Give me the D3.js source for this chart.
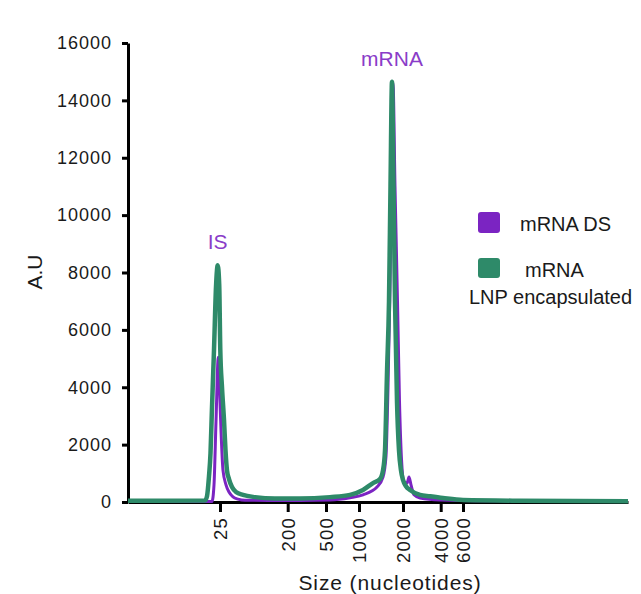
<!DOCTYPE html>
<html>
<head>
<meta charset="utf-8">
<script src="https://cdn.jsdelivr.net/npm/d3@7"></script>
<style>
  html, body { margin: 0; padding: 0; background: #ffffff; }
  svg { display: block; }
  text { font-family: "Liberation Sans", Arial, sans-serif; }
</style>
</head>
<body>
<svg id="chart" width="641" height="594"></svg>
<script>
// Ladder: fragment size (nt) and its migration time (s)
const ladderSizes = [25, 200, 500, 1000, 2000, 4000, 6000];
const ladderTimes = [38.4, 51.94, 59.6, 66.2, 75.0, 82.54, 87.0];

const yTicks = [0, 2000, 4000, 6000, 8000, 10000, 12000, 14000, 16000];

// mRNA LNP encapsulated (green) – migration time vs signal
const lnpTime = [20, 35.4, 35.8, 36.2, 36.5, 36.8, 37.2, 37.6, 37.94, 38.24, 38.46, 38.8, 39.2, 39.5, 39.8, 40.2, 40.8, 41.6, 43, 45.4, 49.4, 54.4, 60.4, 64.4, 67, 69, 70.4, 71, 71.4, 71.8, 72.2, 72.5, 72.8, 73.1, 73.4, 73.8, 74.2, 74.6, 75, 75.6, 76.4, 78.4, 80.4, 83, 87, 98.4, 120];
const lnpValue = [40, 50, 200, 900, 1700, 3300, 5300, 7500, 8250, 7600, 5300, 4000, 2860, 1800, 1100, 800, 520, 350, 250, 170, 120, 120, 170, 250, 420, 660, 800, 1100, 1800, 4500, 7000, 11000, 14650, 11000, 7000, 3500, 1800, 1100, 770, 550, 420, 250, 200, 140, 70, 45, 30];

// mRNA DS (purple)
const dsTime = [20, 36.8, 37.2, 37.6, 38.06, 38.3, 38.6, 39, 39.6, 40.2, 41, 42, 43.4, 54.4, 60.4, 64.4, 67, 69.8, 71, 71.6, 72, 72.4, 73, 73.4, 73.9, 74.3, 74.7, 75.2, 75.8, 76.2, 76.6, 77.2, 78.4, 82.4, 94.4, 120];
const dsValue = [20, 20, 600, 2800, 5050, 4000, 2500, 1100, 600, 350, 180, 100, 60, 55, 70, 150, 250, 520, 870, 1600, 4000, 7500, 14600, 11000, 7000, 3500, 1500, 700, 650, 870, 600, 250, 140, 70, 40, 20];

const seriesNames = ["mRNA DS", "mRNA\nLNP encapsulated"];
const peakLabels = [{ text: "IS", time: 37.94, value: 8250 }, { text: "mRNA", time: 72.8, value: 14650 }];

const colors = { ds: "#7b24c2", lnp: "#2e8a69", label: "#8a3cc8" };

const svg = d3.select("#chart");
const x = d3.scaleLinear().domain([20, 120]).range([128, 628]);
const y = d3.scaleLinear().domain([0, 16000]).range([502, 43]);

// Y axis
const yAxis = svg.append("g")
  .attr("transform", `translate(${x(20)},0)`)
  .call(d3.axisLeft(y).tickValues(yTicks).tickSize(6).tickPadding(10).tickSizeOuter(0).tickFormat(d3.format("d")));
yAxis.select(".domain").attr("stroke", "#000").attr("stroke-width", 3);
yAxis.selectAll(".tick line").attr("stroke", "#000").attr("stroke-width", 3);
yAxis.selectAll(".tick text")
  .attr("fill", "#1a1a1a").style("font-size", "18px").style("letter-spacing", "1px");

// X axis
const sizeByTime = new Map(ladderTimes.map((t, i) => [t, ladderSizes[i]]));
const xAxis = svg.append("g")
  .attr("transform", `translate(0,${y(0)})`)
  .call(d3.axisBottom(x).tickValues(ladderTimes).tickSize(10).tickSizeOuter(0).tickFormat(t => sizeByTime.get(t)));
xAxis.select(".domain").attr("stroke", "#000").attr("stroke-width", 3);
xAxis.selectAll(".tick line").attr("stroke", "#000").attr("stroke-width", 3);
xAxis.selectAll(".tick text")
  .attr("transform", "rotate(-90)")
  .attr("x", -15).attr("y", 0).attr("dy", "0.35em")
  .attr("text-anchor", "end")
  .attr("fill", "#1a1a1a").style("font-size", "18.5px").style("letter-spacing", "1.2px");

// Lines
const line = d3.line().x(d => x(d[0])).y(d => y(d[1])).curve(d3.curveMonotoneX);
const dsData = dsTime.map((t, i) => [t, dsValue[i]]);
const lnpData = lnpTime.map((t, i) => [t, lnpValue[i]]);

svg.append("path").datum(dsData)
  .attr("d", line).attr("fill", "none")
  .attr("stroke", colors.ds).attr("stroke-width", 3).attr("stroke-linejoin", "round");
svg.append("path").datum(lnpData)
  .attr("d", line).attr("fill", "none")
  .attr("stroke", colors.lnp).attr("stroke-width", 4.5).attr("stroke-linejoin", "round");

// Peak labels
svg.selectAll(".peak").data(peakLabels).enter().append("text")
  .attr("class", "peak")
  .attr("x", d => x(d.time))
  .attr("y", d => y(d.value) - 16)
  .attr("text-anchor", "middle")
  .attr("fill", colors.label)
  .style("font-size", "21px")
  .text(d => d.text);

// Axis titles
svg.append("text")
  .attr("transform", "translate(42,272) rotate(-90)")
  .attr("text-anchor", "middle")
  .attr("fill", "#1a1a1a").style("font-size", "21px")
  .text("A.U");
svg.append("text")
  .attr("x", 390).attr("y", 590)
  .attr("text-anchor", "middle")
  .attr("fill", "#1a1a1a").style("font-size", "21px").style("letter-spacing", "0.9px")
  .text("Size (nucleotides)");

// Legend
const legend = svg.append("g");
legend.append("rect").attr("x", 478).attr("y", 212).attr("width", 22).attr("height", 21).attr("rx", 3).attr("fill", colors.ds);
legend.append("text").attr("x", 520).attr("y", 231).attr("fill", "#1a1a1a").style("font-size", "20px").text(seriesNames[0]);
legend.append("rect").attr("x", 478).attr("y", 258).attr("width", 22).attr("height", 20).attr("rx", 3).attr("fill", colors.lnp);
const lnpLines = seriesNames[1].split("\n");
legend.append("text").attr("x", 525).attr("y", 277).attr("fill", "#1a1a1a").style("font-size", "20px").text(lnpLines[0]);
legend.append("text").attr("x", 469).attr("y", 304).attr("fill", "#1a1a1a").style("font-size", "20px").text(lnpLines[1]);
</script>
</body>
</html>
